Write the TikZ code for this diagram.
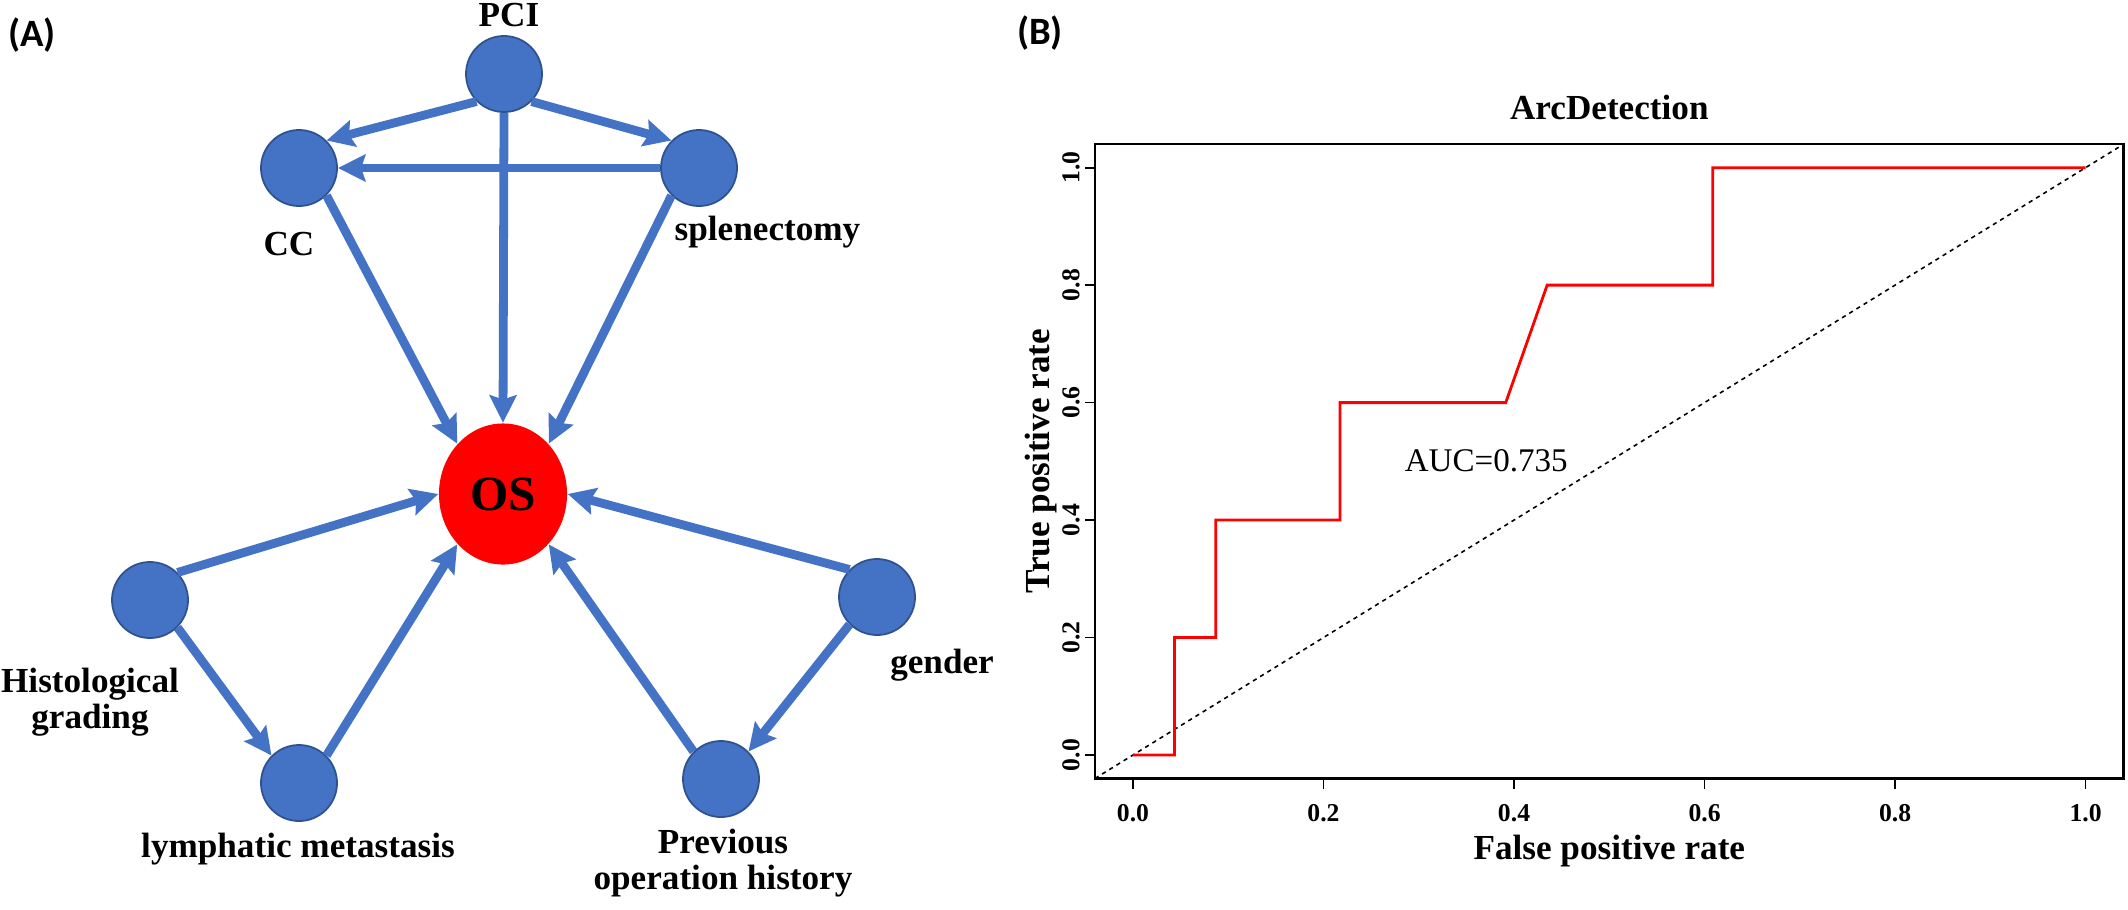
\documentclass[tikz,border=0pt]{standalone}
\usepackage{fontspec}
\setmainfont{Liberation Serif}
\newfontfamily\panelfont{Carlito}
\usetikzlibrary{arrows.meta,shapes.geometric}
\definecolor{nodeblue}{HTML}{4472C4}
\definecolor{nodeedge}{HTML}{2F528F}
\begin{document}
\begin{tikzpicture}[x=0.01cm,y=-0.01cm,
  bn/.style={circle, fill=nodeblue, draw=nodeedge, line width=0.5pt, minimum size=0.76cm, inner sep=0pt},
  osn/.style={ellipse, fill=red, minimum width=1.28cm, minimum height=1.41cm, inner sep=0pt, font=\fontsize{14}{16}\selectfont\bfseries},
  lbl/.style={font=\fontsize{10}{10.3}\selectfont\bfseries, inner sep=0pt, anchor=base, align=center},
  lbl2/.style={font=\fontsize{10}{10.3}\selectfont\bfseries, inner sep=0pt, anchor=center, align=center},
  arr/.style={draw=nodeblue, line width=2.5pt, -{Stealth[length=7.8pt,width=7.6pt,inset=1.2pt]}},
  panel/.style={font=\panelfont\fontsize{11}{13}\selectfont\bfseries, inner sep=0pt},
  ticklbl/.style={font=\fontsize{7.3}{8}\selectfont\bfseries, inner sep=0pt, anchor=center},
  axlbl/.style={font=\fontsize{10}{12}\selectfont\bfseries, inner sep=0pt, anchor=base},
  frame/.style={line width=0.75pt},
  tickline/.style={line width=0.5pt},
  diag/.style={line width=0.45pt, dash pattern=on 1.2pt off 1.2pt},
  roc/.style={red, line width=0.8pt}
]
\useasboundingbox (0,0) rectangle (2128,909);
\fill[white] (0,0) rectangle (2128,909);

% panel labels
\node[panel] (pa) at (32,35) {(A)};
\node[panel] (pb) at (1040,33) {(B)};

% ---------- Panel A: network ----------
\node[bn] (pci) at (504,74) {};
\node[bn] (cc) at (299,168) {};
\node[bn] (spl) at (699,168) {};
\node[osn] (os) at (503,494) {OS};
\node[bn] (hist) at (150,600) {};
\node[bn] (lym) at (299,783) {};
\node[bn] (prev) at (721,779) {};
\node[bn] (gen) at (877,597) {};

\node[lbl] (pcil) at (509,27) {PCI};
\node[lbl] (ccl) at (289,255) {CC};
\node[lbl, anchor=base west] (spll) at (674,240) {splenectomy};
\node[lbl2] (histl) at (90,702) {Histological\\grading};
\node[lbl] (lyml) at (298,857) {lymphatic metastasis};
\node[lbl2] (prevl) at (723,863) {Previous\\operation history};
\node[lbl] (genl) at (942,673) {gender};

\draw[arr] (pci.south west) -- (cc.north east);
\draw[arr] (pci.south east) -- (spl.north west);
\draw[arr] (pci.south) -- (os.north);
\draw[arr] (spl.west) -- (cc.east);
\draw[arr] (cc.south east) -- (os.north west);
\draw[arr] (spl.south west) -- (os.north east);
\draw[arr] (hist.north east) -- (os.west);
\draw[arr] (hist.south east) -- (lym.north west);
\draw[arr] (lym.north east) -- (os.south west);
\draw[arr] (gen.north west) -- (os.east);
\draw[arr] (gen.south west) -- (prev.north east);
\draw[arr] (prev.north west) -- (os.south east);

% ---------- Panel B: ROC plot ----------
\begin{scope}[shift={(1133,755)}, x=9.52cm, y=5.87cm]
  \draw[diag] (-0.04,-0.04) -- (1.04,1.04);
  \draw[roc] (0,0) -- (1/23,0) -- (1/23,0.2) -- (2/23,0.2) -- (2/23,0.4)
     -- (5/23,0.4) -- (5/23,0.6) -- (9/23,0.6) -- (10/23,0.8) -- (14/23,0.8)
     -- (14/23,1) -- (1,1);
  \draw[frame] (-0.04,-0.04) rectangle (1.04,1.04);
  \foreach \t in {0.0,0.2,0.4,0.6,0.8,1.0} {
    \draw[tickline] (\t,-0.04) -- ++(0,-0.1cm);
    \node[ticklbl] (xt\t) at (\t,-0.0996) {\t};
    \draw[tickline] (-0.04,\t) -- ++(-0.1cm,0);
    \node[ticklbl, rotate=90] (yt\t) at (-0.0652,\t) {\t};
  }
  \node[axlbl] (title) at (0.5,1.0818) {ArcDetection};
  \node[axlbl] (xlab) at (0.5,-0.1772) {False positive rate};
  \node[axlbl, rotate=90] (ylab) at (-0.0872,0.5) {True positive rate};
  \node[font=\fontsize{9.4}{11}\selectfont, inner sep=0pt] (auc) at (0.3708,0.5009) {AUC=0.735};
\end{scope}
\end{tikzpicture}
\end{document}
